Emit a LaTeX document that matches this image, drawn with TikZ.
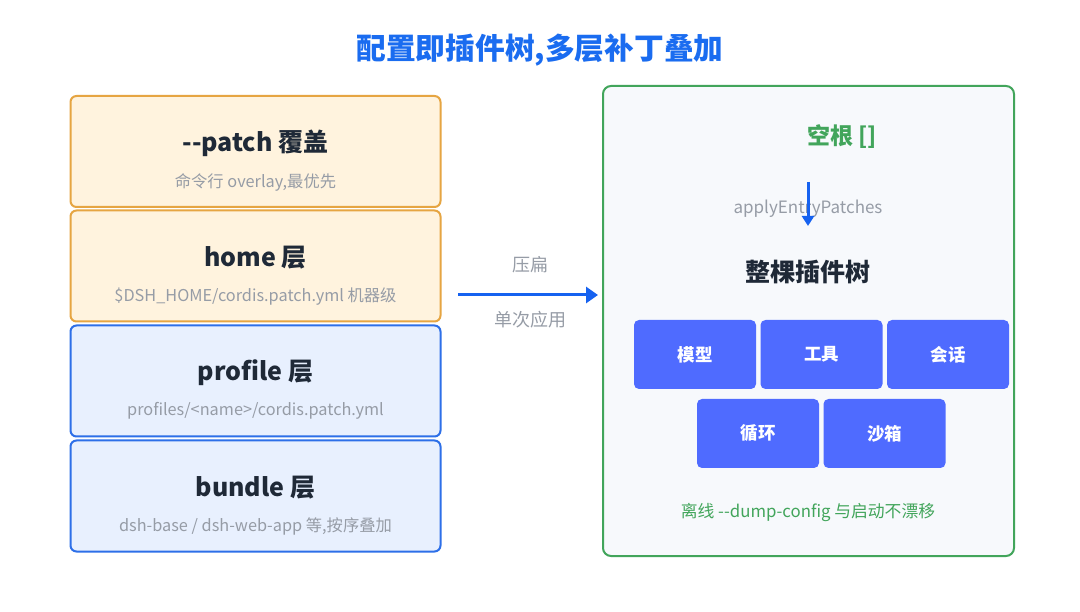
\documentclass[tikz,border=0pt]{standalone}
\usepackage{fontspec}
\setmainfont{Noto Sans CJK SC}
\usetikzlibrary{arrows.meta}
\definecolor{ttl}{RGB}{26,108,240}
\definecolor{dark}{RGB}{31,41,55}
\definecolor{gry}{RGB}{150,156,166}
\definecolor{orb}{RGB}{230,165,66}
\definecolor{orf}{RGB}{255,243,222}
\definecolor{blb}{RGB}{45,111,232}
\definecolor{blf}{RGB}{232,240,254}
\definecolor{grb}{RGB}{66,165,91}
\definecolor{grf}{RGB}{247,249,252}
\definecolor{chip}{RGB}{79,107,255}
\definecolor{arr}{RGB}{22,98,240}
\newcommand{\dd}{\hbox{-}\hbox{-}}
\begin{document}
\begin{tikzpicture}[x=1pt,y=-1pt,
  layer/.style={draw, line width=2pt, rounded corners=6pt, minimum width=370pt, minimum height=111pt, inner sep=0pt},
  orange/.style={layer, draw=orb, fill=orf},
  blue/.style={layer, draw=blb, fill=blf},
  head/.style={font=\fontsize{25}{27}\selectfont\bfseries, text=dark},
  sub/.style={font=\fontsize{16.3}{18}\selectfont, text=gry},
  chipbox/.style={fill=chip, rounded corners=5pt, minimum width=122pt, minimum height=69pt, inner sep=0pt, text=white, font=\fontsize{17.5}{19}\selectfont\bfseries},
  conn/.style={draw=arr, line width=3pt, -{Triangle[length=12pt,width=16pt]}},
  conn2/.style={draw=arr, line width=3pt, -{Triangle[length=10pt,width=12pt]}}]
\useasboundingbox[fill=white] (0,0) rectangle (1080,612);
\node[font=\fontsize{29.7}{32}\selectfont\bfseries, text=ttl] (title) at (540,50) {配置即插件树,多层补丁叠加};
% left layers
\node[orange] (b1) at (255.5,151.5) {};
\node[orange] (b2) at (255.5,266) {};
\node[blue] (b3) at (255.5,381) {};
\node[blue] (b4) at (255.5,496) {};
\node[head] (h1) at (255.5,143) {\dd patch 覆盖};
\node[sub] (s1) at (255.5,182) {命令行 overlay,最优先};
\node[head] (h2) at (255.5,258) {home 层};
\node[sub] (s2) at (255.5,297) {\$DSH\_HOME/cordis.patch.yml 机器级};
\node[head] (h3) at (255.5,373) {profile 层};
\node[sub] (s3) at (255.5,411) {profiles/<name>/cordis.patch.yml};
\node[head] (h4) at (255.5,488) {bundle 层};
\node[sub] (s4) at (255.5,526) {dsh-base / dsh-web-app 等,按序叠加};
% right panel
\node[draw=grb, fill=grf, line width=2pt, rounded corners=8pt, minimum width=411pt, minimum height=470pt, inner sep=0pt] (panel) at (808.5,321) {};
% middle arrow
\coordinate (a0) at (458,295);
\draw[conn, shorten >=4pt] (a0) -- (panel.west |- a0);
\node[sub, font=\fontsize{18}{20}\selectfont] (l1) at (530,265) {压扁};
\node[sub, font=\fontsize{18}{20}\selectfont] (l2) at (530,320) {单次应用};
% inside panel
\node[font=\fontsize{23}{25}\selectfont\bfseries, text=grb] (root) at (842,137) {空根 []};
\node[font=\fontsize{17}{19}\selectfont, text=gry] (apply) at (808,209) {applyEntryPatches};
\coordinate (v0) at (808,182);
\coordinate (v1) at (808,226);
\draw[conn2] (v0) -- (v1);
\node[head] (tree) at (808,272) {整棵插件树};
\node[chipbox] (c1) at (695,354.5) {模型};
\node[chipbox] (c2) at (821.5,354.5) {工具};
\node[chipbox] (c3) at (948,354.5) {会话};
\node[chipbox] (c4) at (758,433.5) {循环};
\node[chipbox] (c5) at (884.5,433.5) {沙箱};
\node[font=\fontsize{16.8}{18}\selectfont, text=grb] (foot) at (808,512) {离线 \dd dump-config 与启动不漂移};
\end{tikzpicture}
\end{document}
